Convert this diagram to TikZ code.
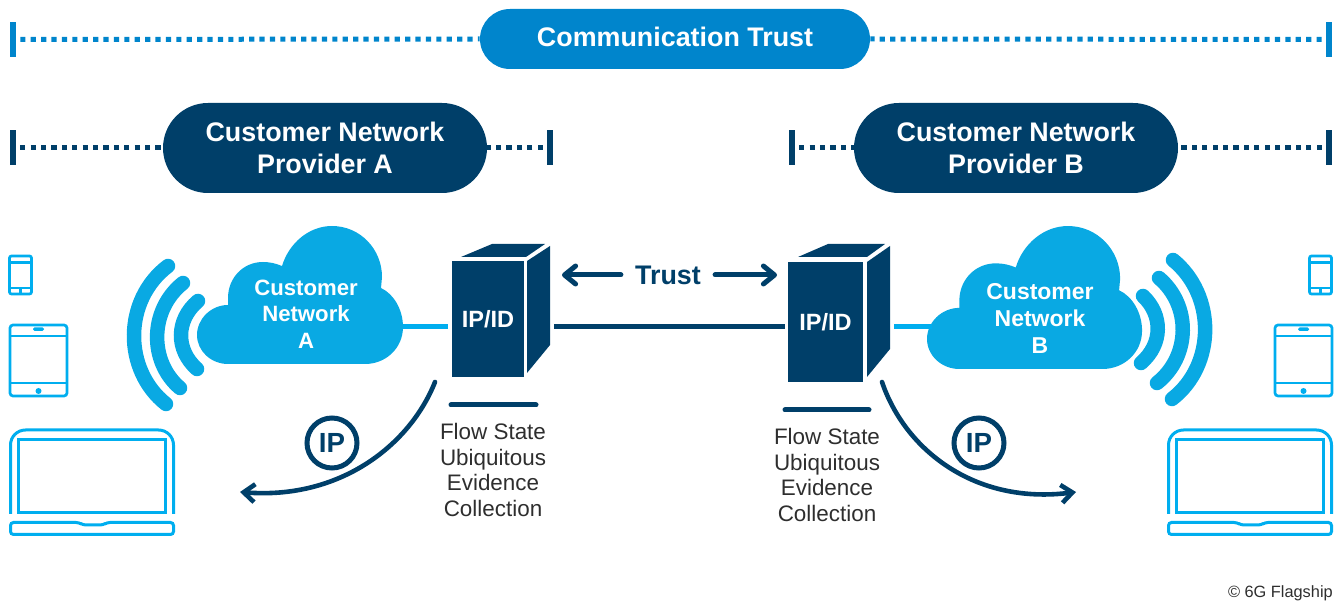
\documentclass[tikz,border=0pt]{standalone}
\usepackage{fontspec}
\setmainfont{Liberation Sans}
\usetikzlibrary{arrows.meta,shapes.misc}

\newlength{\px}
\setlength{\px}{0.01in}

\definecolor{navy}{HTML}{003F69}
\definecolor{midblue}{HTML}{0085CC}
\definecolor{skyblue}{HTML}{09A9E3}
\definecolor{lineblue}{HTML}{00AEEF}
\definecolor{inkgrey}{HTML}{2E2E2E}

\tikzset{
  pill/.style={rounded rectangle,fill=navy,text=white,align=center,minimum width=324\px,minimum height=90\px,inner sep=0pt,font=\bfseries\fontsize{19.4pt}{23pt}\selectfont},
  endbar/.style={rectangle,fill=navy,minimum width=6\px,minimum height=35\px,inner sep=0pt},
  dotline/.style={navy,line width=5\px,dash pattern=on 5.2\px off 5.2\px,shorten <=4\px},
  cloudtext/.style={text=white,align=center,inner sep=0pt,font=\bfseries\fontsize{16pt}{19pt}\selectfont},
  frontbox/.style={rectangle,fill=navy,text=white,inner sep=0pt,font=\bfseries\fontsize{17pt}{20pt}\selectfont},
  flowtext/.style={text=inkgrey,align=center,inner sep=0pt,font=\fontsize{16.2pt}{18.45pt}\selectfont},
  rule/.style={navy,line width=5\px,line cap=round},
  cable/.style={line width=5\px},
  wave/.style={skyblue,line width=14.5\px,line cap=round},
  trustarrow/.style={navy,line width=5\px,line cap=round,-{Straight Barb[length=8pt,width=13pt,round]}},
  iparrow/.style={navy,line width=4.6\px,line cap=round,-{Straight Barb[length=8pt,width=13pt]}},
  ipcircle/.style={circle,draw=navy,line width=5\px,minimum size=50\px,inner sep=0pt,text=navy,font=\bfseries\fontsize{20pt}{23pt}\selectfont},
  device/.style={lineblue,line width=2.7\px},
  cloudpic/.pic={
    \fill[skyblue] (31,0) .. controls (14,0) and (0,-13) .. (0,-29)
      .. controls (0,-45) and (14,-59) .. (31,-59) -- (31,-66)
      .. controls (31,-86) and (46,-102) .. (66,-102)
      .. controls (73,-102) and (79,-100.5) .. (85,-98)
      .. controls (92,-121) and (112,-138) .. (135,-138)
      .. controls (163,-138) and (185,-115) .. (185,-87) -- (184,-76)
      .. controls (197,-70) and (206,-54) .. (206,-37)
      .. controls (206,-16) and (189,0) .. (168,0) -- cycle;
  },
  phonepic/.pic={
    \draw[device,rounded corners=2\px] (9.5,256) rectangle (31.5,294);
    \draw[device] (9.5,262.5) -- (31.5,262.5);
    \draw[device] (9.5,288) -- (31.5,288);
    \draw[device] (20.5,288) -- (20.5,294);
  },
  tabletpic/.pic={
    \draw[device,rounded corners=3\px] (10,325) rectangle (67,396);
    \draw[device] (10,336) -- (67,336);
    \draw[device] (10,383) -- (67,383);
    \fill[lineblue,rounded corners=1.5\px] (33,327.5) rectangle (44,331);
    \fill[lineblue] (38.5,391) circle (3\px);
  },
  laptoppic/.pic={
    \draw[device,line width=3\px,rounded corners=15\px] (10.5,514) -- (10.5,430) -- (173.5,430) -- (173.5,514);
    \draw[device,line width=3\px] (18.5,439.5) rectangle (165.5,513);
    \draw[device,line width=3\px,rounded corners=3\px] (10.5,522.5) -- (79,522.5) -- (83,525) -- (103,525) -- (107,522.5) -- (173.5,522.5) -- (173.5,534.5) -- (10.5,534.5) -- cycle;
  }
}

\begin{document}
\begin{tikzpicture}[x=0.01in,y=-0.01in]
  \useasboundingbox (0,0) rectangle (1334,601);

  \node[pill,fill=midblue,minimum width=390\px,minimum height=60\px,text depth=4\px] (comm) at (675,39) {Communication Trust};
  \node[endbar,fill=midblue] (commL) at (13,39.5) {};
  \node[endbar,fill=midblue] (commR) at (1329,39.5) {};
  \draw[dotline,midblue] (commL.east) -- (comm.west);
  \draw[dotline,midblue] (commR.west) -- (comm.east);

  \node[pill] (provA) at (325,148) {Customer Network\\Provider A};
  \node[endbar] (provAL) at (13,148) {};
  \node[endbar] (provAR) at (550,148) {};
  \draw[dotline] (provAL.east) -- (provA.west);
  \draw[dotline] (provAR.west) -- (provA.east);

  \node[pill] (provB) at (1016,148) {Customer Network\\Provider B};
  \node[endbar] (provBL) at (792,148) {};
  \node[endbar] (provBR) at (1329,148) {};
  \draw[dotline] (provBL.east) -- (provB.west);
  \draw[dotline] (provBR.west) -- (provB.east);

  \pic at (197,364) {cloudpic};
  \pic[xscale=1.044,yscale=1.036] at (927,369) {cloudpic};
  \node[cloudtext] (cloudA) at (306,314) {Customer\\Network\\A};
  \node[cloudtext,font=\bfseries\fontsize{16.6pt}{19.5pt}\selectfont] (cloudB) at (1040,318) {Customer\\Network\\B};

  \draw[wave] (168,266) .. controls (123,300) and (123,370) .. (166,404);
  \draw[wave] (183,283) .. controls (149,310) and (149,362) .. (180,388);
  \draw[wave] (198,301) .. controls (175.5,320) and (175.5,350) .. (197,369);
  \draw[wave] (1173,260) .. controls (1216,295) and (1216,365) .. (1172,399);
  \draw[wave] (1159,278) .. controls (1191,305) and (1191,356) .. (1157,383);
  \draw[wave] (1143,296) .. controls (1163,315) and (1163,344) .. (1141,363);

  \fill[navy] (461,257) -- (492,244) -- (545,244) -- (526,257) -- cycle;
  \fill[navy] (527,261) -- (550,246) -- (550,345) -- (527,373) -- cycle;
  \node[frontbox,minimum width=72\px,minimum height=116\px] (boxA) at (488,319) {IP/ID};
  \fill[navy] (798,257) -- (828,244) -- (885,244) -- (867,257) -- cycle;
  \fill[navy] (867,262) -- (890,246) -- (890,349) -- (867,377) -- cycle;
  \node[frontbox,minimum width=75\px,minimum height=120\px] (boxB) at (825.5,322) {IP/ID};

  \coordinate (cloudAport) at (403,327);
  \coordinate (boxAwest) at (448,327);
  \coordinate (boxAeast) at (554,327);
  \coordinate (boxBwest) at (785,327);
  \coordinate (boxBeast) at (894,327);
  \coordinate (cloudBport) at (932,327);
  \draw[cable,lineblue] (cloudAport) -- (boxAwest);
  \draw[cable,navy] (boxAeast) -- (boxBwest);
  \draw[cable,lineblue] (boxBeast) -- (cloudBport);

  \node[text=navy,inner xsep=14\px,inner ysep=0pt,font=\bfseries\fontsize{19.4pt}{23pt}\selectfont] (trust) at (668,275) {Trust};
  \coordinate (trustA) at (562,275);
  \coordinate (trustB) at (777,275);
  \draw[trustarrow] (trust.west) -- (trustA);
  \draw[trustarrow] (trust.east) -- (trustB);

  \coordinate (ruleAL) at (451,405);
  \coordinate (ruleAR) at (536,405);
  \coordinate (ruleBL) at (785,410);
  \coordinate (ruleBR) at (869,410);
  \draw[rule] (ruleAL) -- (ruleAR);
  \draw[rule] (ruleBL) -- (ruleBR);
  \node[flowtext] (flowA) at (493,470) {Flow State\\Ubiquitous\\Evidence\\Collection};
  \node[flowtext] (flowB) at (827,475) {Flow State\\Ubiquitous\\Evidence\\Collection};

  \coordinate (ipAstart) at (435,382);
  \coordinate (ipAend) at (240,492);
  \coordinate (ipBstart) at (882,382);
  \coordinate (ipBend) at (1076,492);
  \draw[iparrow] (ipAstart) .. controls (410,445) and (340,500) .. (ipAend);
  \draw[iparrow] (ipBstart) .. controls (905,450) and (975,505) .. (ipBend);
  \node[ipcircle,fill=white] (ipA) at (332,443) {IP};
  \node[ipcircle,fill=white] (ipB) at (979,443) {IP};

  \pic at (0,0) {phonepic};
  \pic at (0,0) {tabletpic};
  \pic at (0,0) {laptoppic};
  \pic at (1300,0) {phonepic};
  \pic at (1265,0) {tabletpic};
  \pic at (1158,0) {laptoppic};

  \node[anchor=east,text=inkgrey,inner sep=0pt,font=\fontsize{11.8pt}{14pt}\selectfont] (credit) at (1333,593) {© 6G Flagship};
\end{tikzpicture}
\end{document}
